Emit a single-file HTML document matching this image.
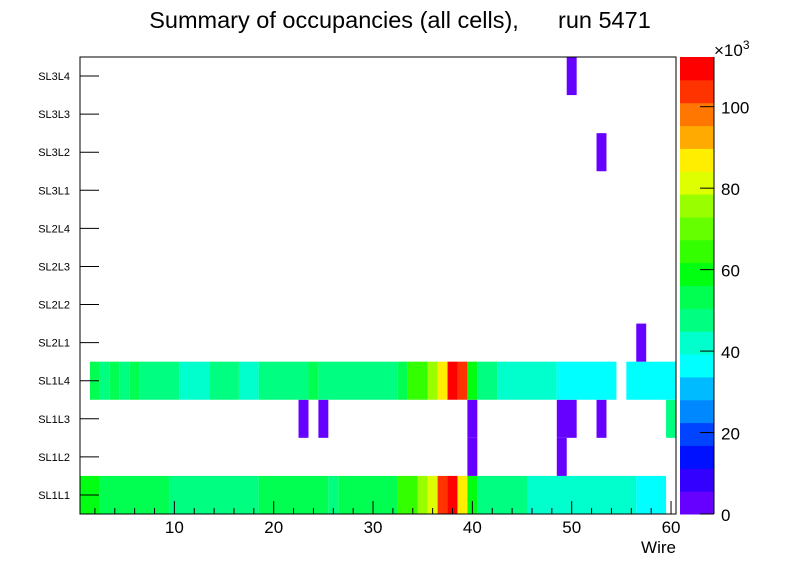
<!DOCTYPE html>
<html><head><meta charset="utf-8"><style>
body{margin:0;background:#fff;}
svg{display:block;font-family:"Liberation Sans",sans-serif;}
</style></head><body>
<svg id="c" width="796" height="572"></svg>
<script>
const rows=["SL1L1","SL1L2","SL1L3","SL1L4","SL2L1","SL2L2","SL2L3","SL2L4","SL3L1","SL3L2","SL3L3","SL3L4"];
const xTicks=[10,20,30,40,50,60];
const zTicks=[0,20,40,60,80,100];
// cells: [rowIndex, firstWire, lastWire, value]
const cellsSL1L1=[[0,1,2,59000],[0,3,9,53000],[0,10,18,48000],[0,19,25,53000],[0,26,26,48000],[0,27,32,53000],[0,33,34,64000],[0,35,35,76000],[0,36,36,82000],[0,37,37,104000],[0,38,38,110000],[0,39,39,87000],[0,40,40,59000],[0,41,45,48000],[0,46,56,42000],[0,57,59,37000]];
const cellsSL1L2=[[1,40,40,2000],[1,49,49,2000]];
const cellsSL1L3=[[2,23,23,2000],[2,25,25,2000],[2,40,40,2000],[2,49,50,2000],[2,53,53,2000],[2,60,60,48000]];
const cellsSL1L4=[[3,2,2,53000],[3,3,3,48000],[3,4,4,53000],[3,5,5,48000],[3,6,6,53000],[3,7,10,48000],[3,11,13,42000],[3,14,16,48000],[3,17,18,42000],[3,19,23,48000],[3,24,24,53000],[3,25,32,48000],[3,33,33,53000],[3,34,35,64000],[3,36,36,76000],[3,37,37,87000],[3,38,38,110000],[3,39,39,104000],[3,40,40,59000],[3,41,42,48000],[3,43,48,42000],[3,49,54,37000],[3,56,60,37000]];
const cellsOther=[[4,57,57,2000],[9,53,53,2000],[11,50,50,2000]];
const palette=["#6600ff","#3300ff","#0011ff","#0044ff","#0088ff","#00bbff","#00ffff","#00ffcc","#00ff80","#00ff50","#00ff11","#33ff00","#66ff00","#99ff00","#ddff00","#ffee00","#ffaa00","#ff7700","#ff3300","#ff0000"];
const zMax=112200;
const L=80,R=676,T=57,B=514,xMin=0.5,xMax=60.5;
const X=w=>L+(w-xMin)/(xMax-xMin)*(R-L);
const rh=(B-T)/rows.length;
const Y=r=>B-(r+1)*rh;
const Z=v=>B-v/zMax*(B-T);
const col=v=>palette[Math.min(palette.length-1,Math.floor(v/zMax*palette.length))];
const svg=document.getElementById('c');const NS="http://www.w3.org/2000/svg";
function mk(t,a,p){const e=document.createElementNS(NS,t);for(const k in a)e.setAttribute(k,a[k]);(p||svg).appendChild(e);return e;}
[...cellsSL1L1,...cellsSL1L2,...cellsSL1L3,...cellsSL1L4,...cellsOther].forEach(c=>{
 const e=mk('rect',{x:X(c[1]-0.5),y:Y(c[0]),width:X(c[2]+0.5)-X(c[1]-0.5),height:rh,fill:col(c[3])});
 
 
});
const fr=mk('rect',{x:L,y:T,width:R-L,height:B-T,fill:'none',stroke:'#000','stroke-width':1});


rows.forEach((r,i)=>{const yc=Y(i)+rh/2;
 mk('line',{x1:L,x2:L+19,y1:yc,y2:yc,stroke:'#000'});
 const t=mk('text',{x:70,y:yc+4,'text-anchor':'end','font-size':11});t.textContent=r;
 
 
});
for(let w=2;w<=60;w+=2){const big=w%10===0;mk('line',{x1:X(w),x2:X(w),y1:B,y2:B-(big?13:6),stroke:'#000'});}
xTicks.forEach(v=>{const t=mk('text',{x:X(v),y:533,'text-anchor':'middle','font-size':17});t.textContent=v;
 
 });
const xt=mk('text',{x:676,y:553,'text-anchor':'end','font-size':17});xt.textContent='Wire';


const tt=mk('text',{x:400,y:28,'text-anchor':'middle','font-size':23.5,style:'white-space:pre'});tt.textContent='Summary of occupancies (all cells),      run 5471';


const PL=680,PR=714,bh=(B-T)/palette.length;
palette.forEach((c,i)=>{const e=mk('rect',{x:PL,y:B-(i+1)*bh,width:PR-PL,height:bh+0.5,fill:c});
 
 });
mk('line',{x1:PR,x2:PR,y1:T,y2:B,stroke:'#000'});
zTicks.forEach(v=>{const y=Z(v*1000);mk('line',{x1:PR-14,x2:PR,y1:y,y2:y,stroke:'#000'});
 const t=mk('text',{x:721,y:y+7,'font-size':17});t.textContent=v;
 
 });
const ex=mk('text',{x:714,y:56,'font-size':17});ex.innerHTML='×10<tspan dy="-7" font-size="12">3</tspan>';


</script>
</body></html>
